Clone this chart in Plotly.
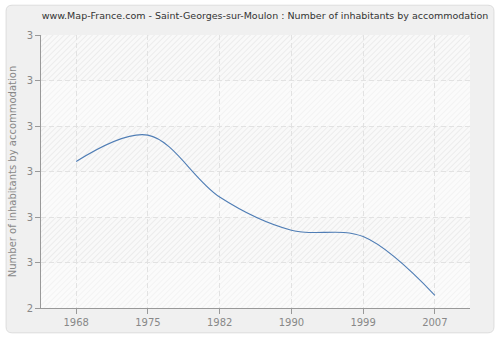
import base64
import plotly.graph_objects as go

years = ["1968", "1975", "1982", "1990", "1999", "2007"]
values = [2.722, 2.780, 2.644, 2.571, 2.557, 2.428]
ytick_vals = [2.4, 2.5, 2.6, 2.7, 2.8, 2.9, 3.0]
ytick_text = ["2", "3", "3", "3", "3", "3", "3"]

W, H = 500, 340
ml, mr, mt, mb = 40, 30, 35, 30
pw, ph = W - ml - mr, H - mt - mb

def px(x):
    return (x - ml) / pw

def py(y):
    return (H - mb - y) / ph

x0, x1, y0, y1 = px(5), px(494), py(335), py(5)
rx, ry = 6 / pw, 6 / ph
path = (f"M {x0+rx},{y0} L {x1-rx},{y0} Q {x1},{y0} {x1},{y0+ry} "
        f"L {x1},{y1-ry} Q {x1},{y1} {x1-rx},{y1} L {x0+rx},{y1} "
        f"Q {x0},{y1} {x0},{y1-ry} L {x0},{y0+ry} Q {x0},{y0} {x0+rx},{y0} Z")

# hatched background bands (decorative), alternating intensity
ymin, ymax = ytick_vals[0], ytick_vals[-1]
nb = len(ytick_vals) - 1
bh = ph / nb
rects = []
for i in range(nb):
    top = i * bh
    pid = "a" if i % 2 == 0 else "b"
    rects.append(f'<rect x="0" y="{top:.2f}" width="{pw}" height="{bh:.2f}" fill="url(#{pid})"/>')
svg = (f'<svg xmlns="http://www.w3.org/2000/svg" width="{pw}" height="{ph}" viewBox="0 0 {pw} {ph}" preserveAspectRatio="none">'
       '<defs>'
       '<pattern id="a" width="4" height="4" patternUnits="userSpaceOnUse" patternTransform="rotate(45)">'
       '<rect width="4" height="4" fill="#f9f9f9"/><line x1="0" y1="0" x2="0" y2="4" stroke="#e9e9e9" stroke-width="1.6"/></pattern>'
       '<pattern id="b" width="4" height="4" patternUnits="userSpaceOnUse" patternTransform="rotate(45)">'
       '<rect width="4" height="4" fill="#fbfbfb"/><line x1="0" y1="0" x2="0" y2="4" stroke="#f2f2f2" stroke-width="1.6"/></pattern>'
       '</defs>' + "".join(rects) + '</svg>')
src = "data:image/svg+xml;base64," + base64.b64encode(svg.encode()).decode()

xr = [-0.49, len(years) - 1 + 0.49]

fig = go.Figure()
fig.add_trace(go.Scatter(
    x=years, y=values, mode="lines",
    line=dict(color="#4f7db5", width=1.1, shape="spline", smoothing=1.0),
    showlegend=False))

grid = dict(showgrid=True, gridcolor="#e2e2e2", griddash="5px,3px", gridwidth=1)
fig.update_layout(
    width=W, height=H,
    margin=dict(l=ml, r=mr, t=mt, b=mb),
    paper_bgcolor="white", plot_bgcolor="#fafafa",
    font=dict(family="DejaVu Sans", size=10, color="#888888"),
    title=dict(text="www.Map-France.com - Saint-Georges-sur-Moulon : Number of inhabitants by accommodation",
               x=0.53, xanchor="center", xref="container", y=1 - 16 / H, yanchor="middle",
               font=dict(family="DejaVu Sans", size=9.5, color="#333333")),
    xaxis=dict(type="category", range=xr,
               showline=True, linecolor="#999999", linewidth=1,
               ticks="outside", ticklen=5, tickcolor="#999999",
               zeroline=False, tickfont=dict(size=10, color="#888888"), **grid),
    yaxis=dict(range=[ymin, ymax], tickvals=ytick_vals, ticktext=ytick_text,
               showline=True, linecolor="#999999", linewidth=1,
               ticks="outside", ticklen=5, tickcolor="#999999",
               zeroline=False, tickfont=dict(size=10, color="#888888"),
               title=dict(text="Number of inhabitants by accommodation",
                          font=dict(size=10, color="#888888"), standoff=8), **grid),
    images=[dict(source=src, xref="x", yref="y", x=xr[0], y=ymax,
                 sizex=xr[1] - xr[0], sizey=ymax - ymin, sizing="stretch",
                 xanchor="left", yanchor="top", layer="below")],
    shapes=[dict(type="path", path=path, xref="paper", yref="paper",
                 fillcolor="#f0f0f0", line=dict(color="#dddddd", width=1),
                 layer="below")],
)

fig.write_html("out.html")
